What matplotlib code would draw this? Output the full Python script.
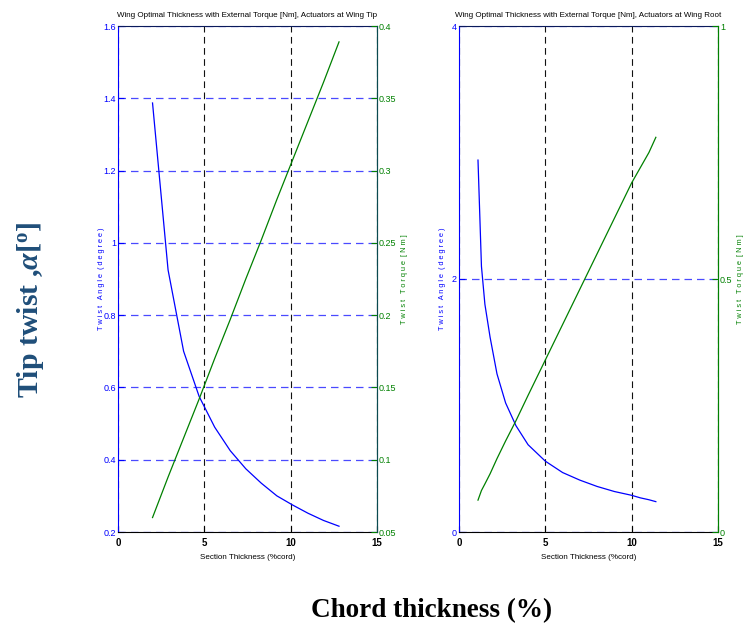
import matplotlib
matplotlib.use("Agg")
import matplotlib.pyplot as plt

plt.rcParams['mathtext.fontset'] = 'custom'
plt.rcParams['mathtext.rm'] = 'Liberation Serif:bold'
plt.rcParams['mathtext.it'] = 'Liberation Serif:italic:bold'
plt.rcParams['mathtext.bf'] = 'Liberation Serif:bold'

# ---- data: left panel (actuators at wing tip)
tip_x = [2.0, 2.9, 3.8, 4.7, 5.6, 6.5, 7.4, 8.3, 9.2, 10.1, 11.0, 11.9, 12.8]
tip_angle = [1.387, 0.925, 0.70, 0.575, 0.49, 0.425, 0.375, 0.335, 0.30, 0.275, 0.252, 0.232, 0.216]
tip_torque = [0.060, 0.088, 0.115, 0.142, 0.170, 0.197, 0.225, 0.252, 0.280, 0.307, 0.334, 0.361, 0.389]

# ---- data: right panel (actuators at wing root)
root_x = [1.1, 1.3, 1.5, 1.8, 2.2, 2.7, 3.3, 4.0, 5.0, 6.0, 7.0, 8.0, 9.0, 10.0, 10.5, 11.0, 11.4]
root_angle = [2.94, 2.10, 1.80, 1.54, 1.25, 1.02, 0.84, 0.69, 0.56, 0.47, 0.41, 0.36, 0.32, 0.29, 0.27, 0.255, 0.24]
root_torque = [0.063, 0.082, 0.095, 0.115, 0.145, 0.18, 0.22, 0.27, 0.34, 0.41, 0.48, 0.55, 0.62, 0.69, 0.72, 0.75, 0.78]

titles = ["Wing Optimal Thickness with External Torque [Nm], Actuators at Wing Tip",
          "Wing Optimal Thickness with External Torque [Nm], Actuators at Wing Root"]
x_ticks = [0, 5, 10, 15]
tip_left_ticks = [0.2, 0.4, 0.6, 0.8, 1.0, 1.2, 1.4, 1.6]
tip_left_labels = ["0.2", "0.4", "0.6", "0.8", "1", "1.2", "1.4", "1.6"]
tip_right_ticks = [0.05, 0.1, 0.15, 0.2, 0.25, 0.3, 0.35, 0.4]
tip_right_labels = ["0.05", "0.1", "0.15", "0.2", "0.25", "0.3", "0.35", "0.4"]
root_left_ticks = [0, 2, 4]
root_right_ticks = [0, 0.5, 1]
root_right_labels = ["0", "0.5", "1"]

BLUE = '#0000ff'
GREEN = '#008000'
FONT = ['Liberation Sans Narrow', 'Liberation Sans', 'DejaVu Sans']
FS = 6.5

fig = plt.figure(figsize=(7.45, 6.32), dpi=100)

def spaced(s):
    return " ".join(list(s))

def make_panel(rect, x, ya, yt, title, lylim, lticks, llabels, rylim, rticks, rlabels,
               rspine, rlab_x):
    ax = fig.add_axes(rect)
    ax2 = ax.twinx()
    ax.plot(x, ya, color=BLUE, lw=0.9, zorder=3)
    ax2.plot(x, yt, color=GREEN, lw=0.9, zorder=3)
    ax.set_xlim(0, 15)
    ax.set_ylim(*lylim)
    ax2.set_ylim(*rylim)
    ax.set_xticks(x_ticks)
    ax.set_xticklabels([str(t) for t in x_ticks], fontfamily=FONT, fontsize=7, fontweight='bold')
    ax.set_yticks(lticks)
    ax.set_yticklabels(llabels, fontfamily=FONT, fontsize=FS, color=BLUE)
    ax2.set_yticks(rticks)
    ax2.set_yticklabels(rlabels, fontfamily=FONT, fontsize=FS, color=GREEN)
    ax.tick_params(axis='y', direction='in', length=4, color=BLUE, pad=1.5)
    ax.tick_params(axis='x', direction='in', length=4, pad=4)
    ax2.tick_params(axis='y', direction='in', length=4, color=GREEN, pad=1.5)
    ax.set_axisbelow(True)
    ax.yaxis.grid(True, color='#4a4aff', linestyle=(0, (6, 4)), lw=0.9)
    ax.xaxis.grid(True, color='#111111', linestyle=(0, (6, 4)), lw=0.8)
    ax2.grid(False)
    for sp in ['top', 'bottom', 'left', 'right']:
        ax2.spines[sp].set_visible(False)
    ax.spines['left'].set_color(BLUE)
    ax.spines['right'].set_color(rspine)
    ax.spines['top'].set_color('#0a1a5a')
    ax.spines['bottom'].set_color('black')
    ax2.spines['right'].set_visible(True)
    ax2.spines['right'].set_color(rspine)
    ax.set_title(title, fontfamily=FONT, fontsize=5.8, pad=6.5)
    ax.set_xlabel("Section Thickness (%cord)", fontfamily=FONT, fontsize=5.8, labelpad=4.5)
    ax.set_ylabel(spaced("Twist Angle") + "  " + spaced("(degree)"), fontfamily=FONT,
                  fontsize=5.3, color=BLUE)
    ax2.set_ylabel(spaced("Twist Torque") + "  " + spaced("[Nm]"), fontfamily=FONT,
                   fontsize=5.3, color=GREEN)
    ax.yaxis.set_label_coords(-0.052, 0.5)
    ax2.yaxis.set_label_coords(rlab_x, 0.5)
    return ax, ax2

W = 259 / 745
H = 506 / 632
B = 1 - 532 / 632
make_panel([118 / 745, B, W, H], tip_x, tip_angle, tip_torque, titles[0],
           (0.2, 1.6), tip_left_ticks, tip_left_labels,
           (0.05, 0.4), tip_right_ticks, tip_right_labels, '#0a4a50', 1.092)
make_panel([459 / 745, B, W, H], root_x, root_angle, root_torque, titles[1],
           (0, 4), root_left_ticks, [str(t) for t in root_left_ticks],
           (0, 1), root_right_ticks, root_right_labels, GREEN, 1.072)

fig.text(31 / 745, 1 - 310 / 632, r"Tip twist ,$\alpha$[$^{\rm o}$]", rotation=90,
         ha='center', va='center', fontsize=21.5, fontfamily='Liberation Serif',
         fontweight='bold', color='#1f4e79')
fig.text(432 / 745, 1 - 611 / 632, "Chord thickness (%)", ha='center', va='center',
         fontsize=19.5, fontfamily='Liberation Serif', fontweight='bold', color='black')

fig.savefig("out.png", dpi=100)
